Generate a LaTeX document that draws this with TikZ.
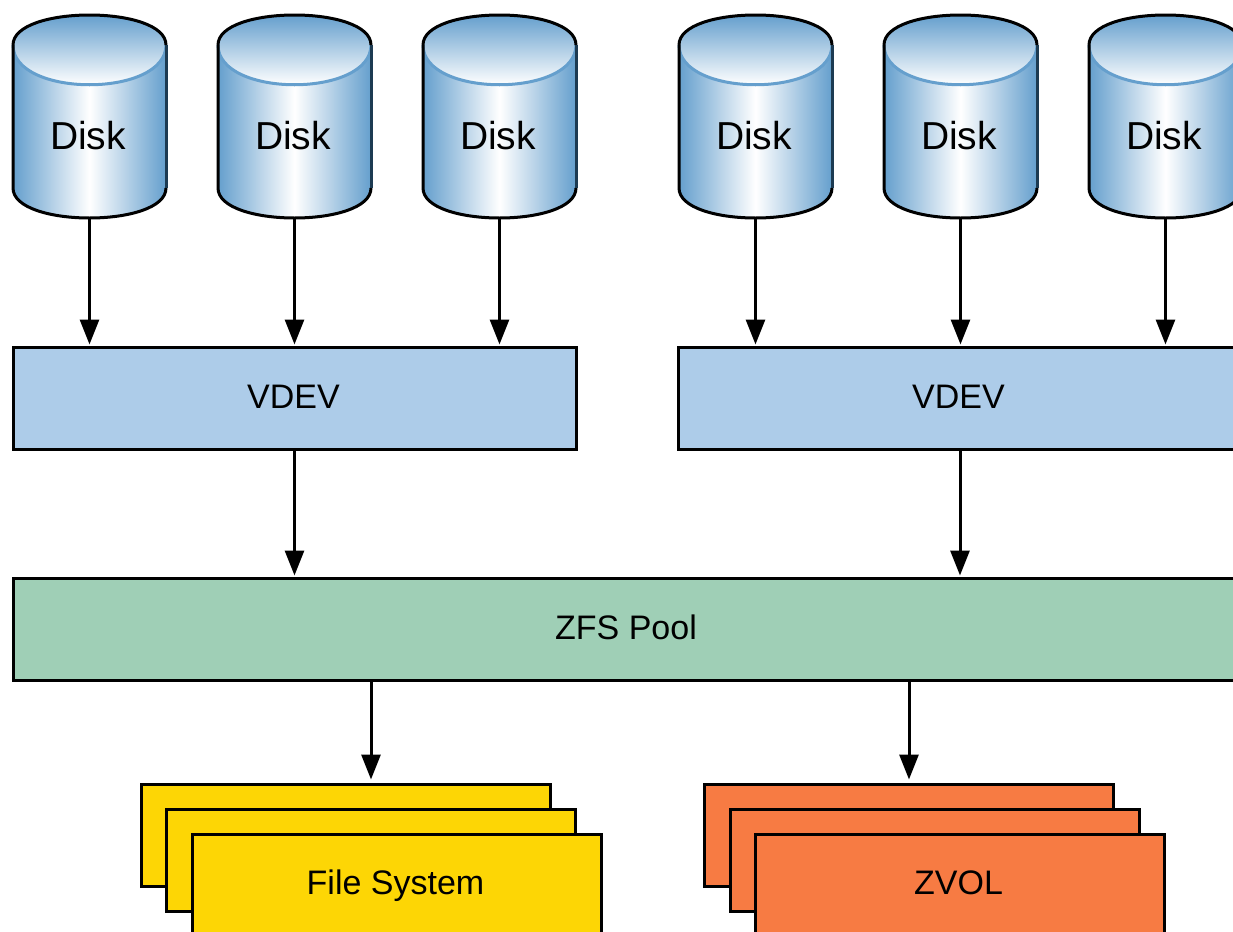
\documentclass[tikz,border=0pt]{standalone}
\usepackage{fontspec}
\setmainfont{Liberation Sans}
\usetikzlibrary{arrows.meta}
\definecolor{diskblue}{HTML}{659FCD}
\definecolor{diskside}{HTML}{1D3B52}
\definecolor{vdevblue}{HTML}{ADCCE9}
\definecolor{poolgreen}{HTML}{9FCFB6}
\definecolor{fsyellow}{HTML}{FDD605}
\definecolor{zvolorange}{HTML}{F77B43}
\tikzset{
  box/.style={draw,line width=1.5pt,minimum height=51pt,inner sep=0pt,text height=12.2pt,text depth=2.5pt,
    execute at end node=\hspace{1.5pt},font=\fontsize{17}{20}\selectfont},
  vdevbox/.style={box,fill=vdevblue,minimum width=281.5pt},
  poolbox/.style={box,fill=poolgreen,minimum width=614.5pt},
  stackbox/.style={box,minimum width=204.5pt},
  disklabel/.style={inner sep=0pt,font=\fontsize{19.5}{22}\selectfont},
  diskbox/.style={inner sep=0pt,minimum width=76.5pt,minimum height=101.5pt},
  feed/.style={line width=1.5pt,-{Triangle[length=12.5pt,width=9.5pt]},shorten >=0.75pt},
}
% one cylinder, #1 = name, #2 = left edge
\newcommand{\diskcyl}[2]{
  \shade [left color=diskblue,right color=diskblue,middle color=white]
    (#2,45) -- (#2,188) .. controls (#2,228) and (#2+153,228) .. (#2+153,188) -- (#2+153,45) -- cycle;
  \begin{scope}
    \clip (#2,45) .. controls (#2,5) and (#2+153,5) .. (#2+153,45) .. controls (#2+153,98) and (#2,98) .. (#2,45) -- cycle;
    \shade [top color=diskblue,bottom color=white] (#2,15) rectangle (#2+153,85);
  \end{scope}
  \draw [diskblue,line width=1.5pt] (#2,45) .. controls (#2,98) and (#2+153,98) .. (#2+153,45);
  \draw [line width=1.5pt] (#2+153,45) .. controls (#2+153,5) and (#2,5) .. (#2,45) -- (#2,188)
    .. controls (#2,228) and (#2+153,228) .. (#2+153,188);
  \draw [diskside,line width=1.5pt] (#2+153,45) -- (#2+153,188);
  \node [diskbox] (#1) at (#2+76.5,116.5) {};
  \node [disklabel] (#1t) at (#2+75,136) {Disk};
}
\begin{document}
\begin{tikzpicture}[x=0.5pt,y=-0.5pt]
    \useasboundingbox (0,0) rectangle (1233,932);
    \clip (0,0) rectangle (1233,932);
    \diskcyl{da}{13}
    \diskcyl{db}{218}
    \diskcyl{dc}{423}
    \diskcyl{dd}{679}
    \diskcyl{de}{884}
    \diskcyl{df}{1089}
    \node [vdevbox] (va) at (295,398.5) {VDEV};
    \node [vdevbox] (vb) at (960,398.5) {VDEV};
    \node [poolbox] (pool) at (627.5,629.5) {ZFS Pool};
    \node [stackbox,fill=fsyellow] (fsa) at (346,835) {};
    \node [stackbox,fill=fsyellow] (fsb) at (371,860) {};
    \node [stackbox,fill=fsyellow] (fsc) at (397,885) {File System};
    \node [stackbox,fill=zvolorange] (zva) at (909,835) {};
    \node [stackbox,fill=zvolorange] (zvb) at (934.5,860) {};
    \node [stackbox,fill=zvolorange] (zvc) at (960,885) {ZVOL};
    \draw [feed] (da.south) -- (da.south |- va.north);
    \draw [feed] (db.south) -- (db.south |- va.north);
    \draw [feed] (dc.south) -- (dc.south |- va.north);
    \draw [feed] (dd.south) -- (dd.south |- vb.north);
    \draw [feed] (de.south) -- (de.south |- vb.north);
    \draw [feed] (df.south) -- (df.south |- vb.north);
    \draw [feed] (db.south |- va.south) -- (db.south |- pool.north);
    \draw [feed] (vb.south) -- (vb.south |- pool.north);
    \draw [feed,shorten >=1.5pt] (fsb.north |- pool.south) -- (fsb.north |- fsa.north);
    \draw [feed,shorten >=1.5pt] (zva.north |- pool.south) -- (zva.north);
\end{tikzpicture}
\end{document}
